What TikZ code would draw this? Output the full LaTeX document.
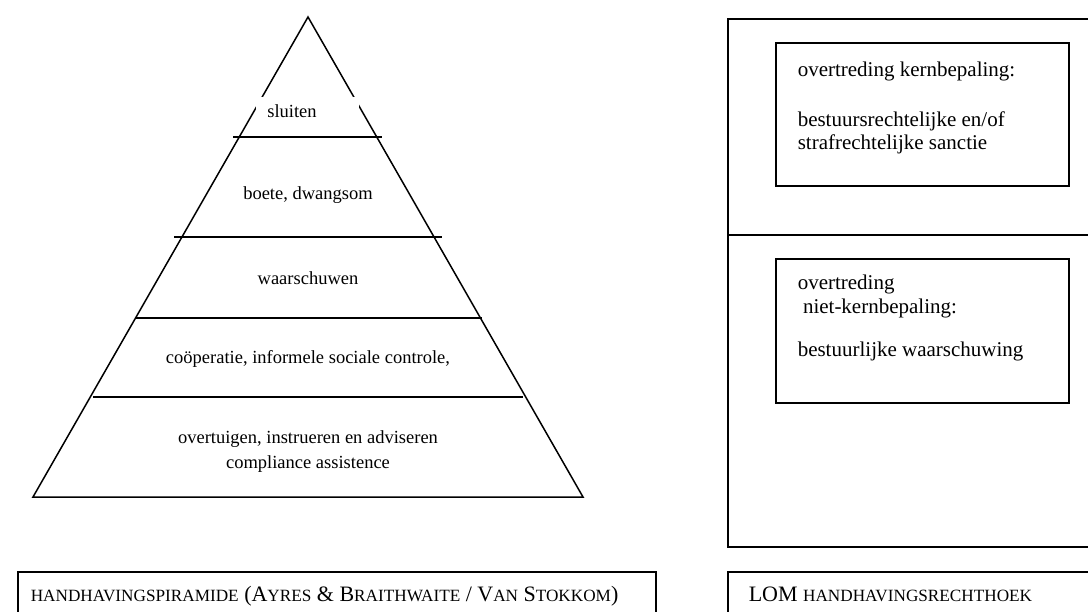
\documentclass[tikz,border=0pt]{standalone}
\usepackage{fontspec}
\setmainfont{Liberation Serif}
\newcommand\scs[1]{{\fontsize{17.2}{20}\selectfont #1}}
\begin{document}
\begin{tikzpicture}[x=1pt,y=-1pt, line width=1.5pt,
  pyr/.style={font=\fontsize{18.5}{22}\selectfont, inner sep=0pt, anchor=base},
  boxtxt/.style={font=\fontsize{21}{24}\selectfont, inner sep=0pt, anchor=base west},
  captxt/.style={font=\fontsize{22}{26}\selectfont, inner sep=0pt, anchor=base west},
  framebox/.style={draw, inner sep=0pt, line width=1.5pt}
]
\useasboundingbox (0,0) rectangle (1088,612);
\clip (0,0) rectangle (1088,612);
\fill[white] (0,0) rectangle (1088,612);
% pyramid
\coordinate (apex) at (308,17);
\coordinate (bl) at (33,497);
\coordinate (br) at (583,497);
\draw[line join=miter] (apex) -- (bl) -- (br) -- cycle;
\node[fill=white, minimum width=103pt, minimum height=39pt, inner sep=0pt] (topbg) at (307.5,116.5) {};
\node[pyr] (sluiten) at (292,118) {sluiten};
\draw (233,137) -- (382,137);
\node[pyr] (boete) at (308,200) {boete, dwangsom};
\draw (174,237) -- (442,237);
\node[pyr] (waarsch) at (308,285) {waarschuwen};
\draw (135,318) -- (482,318);
\node[pyr] (coop) at (308,364) {coöperatie, informele sociale controle,};
\draw (93,397) -- (523,397);
\node[pyr] (overt) at (308,444) {overtuigen, instrueren en adviseren};
\node[pyr] (compl) at (308,468) {compliance assistence};
% rectangle
\draw (728,19) rectangle (1110,547);
\draw (728,235) -- (1110,235);
\node[framebox, minimum width=293pt, minimum height=143pt] (kernbox) at (922.5,114.5) {};
\node[boxtxt] (k1) at (797,77) {overtreding kernbepaling:};
\node[boxtxt] (k2) at (797,127) {bestuursrechtelijke en/of};
\node[boxtxt] (k3) at (797,150) {strafrechtelijke sanctie};
\node[framebox, minimum width=293pt, minimum height=144pt] (nietbox) at (922.5,331) {};
\node[boxtxt] (n1) at (797,290) {overtreding};
\node[boxtxt] (n2) at (797,314) {\ niet-kernbepaling:};
\node[boxtxt] (n3) at (797,357) {bestuurlijke waarschuwing};
% captions
\node[framebox, minimum width=638pt, minimum height=60pt] (capl) at (337,602) {};
\node[captxt] (capltxt) at (30,601) {\scs{HANDHAVINGSPIRAMIDE} (A\scs{YRES} \& B\scs{RAITHWAITE} / V\scs{AN} S\scs{TOKKOM})};
\node[framebox, minimum width=400pt, minimum height=60pt] (capr) at (928,602) {};
\node[captxt] (caprtxt) at (748,601) {LOM \scs{HANDHAVINGSRECHTHOEK}};
\end{tikzpicture}
\end{document}
